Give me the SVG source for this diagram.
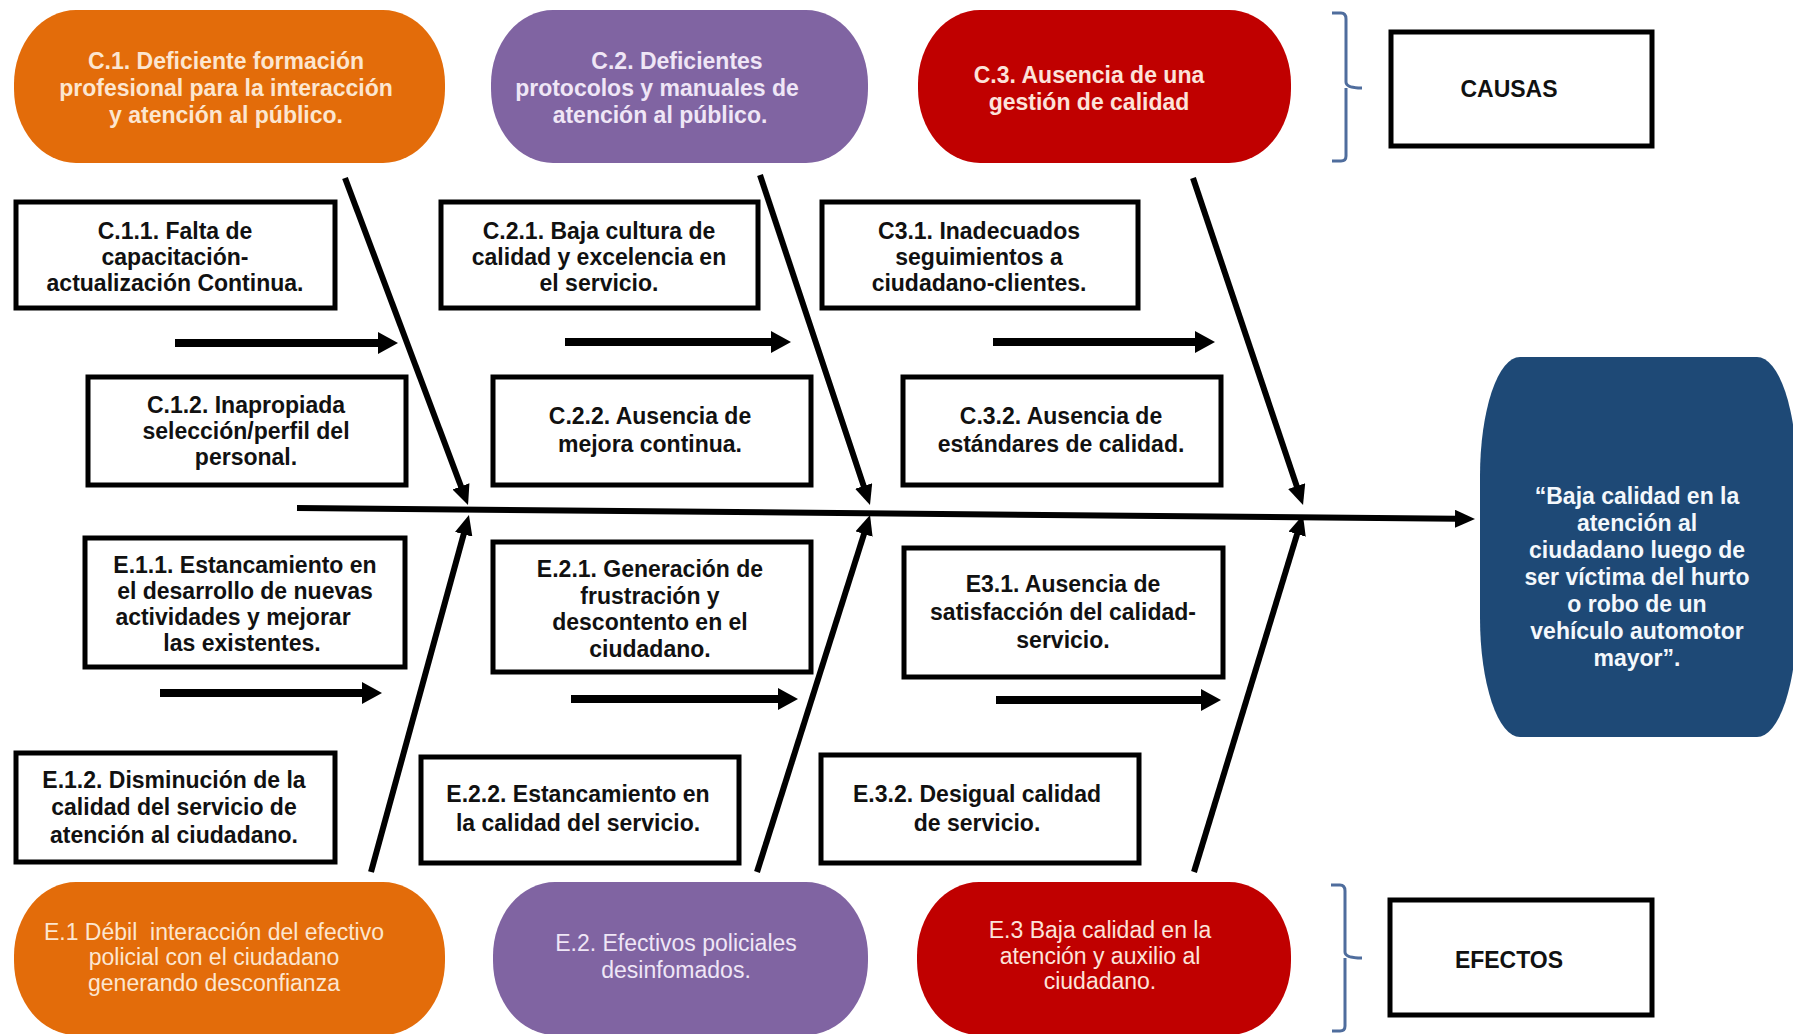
<svg xmlns="http://www.w3.org/2000/svg" width="1793" height="1034" viewBox="0 0 1793 1034">
<style>
  text { font-family: "Liberation Sans", Arial, sans-serif; font-size: 23px; text-anchor: middle; }
  .box { fill: #ffffff; stroke: #000000; stroke-width: 5; }
  .bt { font-weight: bold; fill: #111111; }
  .orange { fill: #E36C0A; }
  .purple { fill: #8064A2; }
  .red { fill: #C00000; }
  .navy { fill: #1E4976; }
  .ct { font-weight: bold; }
  .et { font-weight: normal; }
  .to { fill: #FCE6D0; }
  .tp { fill: #EFE6F6; }
  .tr { fill: #FCE3DA; }
  .tn { font-weight: bold; fill: #F4F8FC; }
  .lbl { font-weight: bold; fill: #111111; }
  .bone { stroke: #000000; stroke-width: 6; fill: none; marker-end: url(#headL); }
  .twig { stroke: #000000; stroke-width: 8; fill: none; marker-end: url(#headS); }
  .brace { stroke: #4F6D9D; stroke-width: 3; fill: none; }
</style>
<defs>
  <marker id="headL" markerUnits="userSpaceOnUse" markerWidth="20" markerHeight="18" refX="2" refY="9" orient="auto">
    <path d="M0,0 L20,9 L0,18 z" fill="#000000"/>
  </marker>
  <marker id="headS" markerUnits="userSpaceOnUse" markerWidth="20" markerHeight="22" refX="2" refY="11" orient="auto">
    <path d="M0,0 L20,11 L0,22 z" fill="#000000"/>
  </marker>
</defs>
<rect x="0" y="0" width="1793" height="1034" fill="#ffffff"/>

<g id="connectors">
  <line class="bone" x1="297" y1="508" x2="1457" y2="518.8"/>
  <line class="bone" x1="345" y1="178" x2="461.7" y2="488.2"/>
  <line class="bone" x1="760" y1="175" x2="864.3" y2="487.9"/>
  <line class="bone" x1="1193" y1="178" x2="1297.3" y2="487.9"/>
  <line class="bone" x1="371" y1="872" x2="464.2" y2="532.4"/>
  <line class="bone" x1="757" y1="872" x2="864.6" y2="532.2"/>
  <line class="bone" x1="1194" y1="872" x2="1297.7" y2="532.2"/>
  <line class="twig" x1="175" y1="343" x2="380" y2="343"/>
  <line class="twig" x1="565" y1="342" x2="773" y2="342"/>
  <line class="twig" x1="993" y1="342" x2="1197" y2="342"/>
  <line class="twig" x1="160" y1="693" x2="364" y2="693"/>
  <line class="twig" x1="571" y1="699" x2="780" y2="699"/>
  <line class="twig" x1="996" y1="700" x2="1203" y2="700"/>
</g>

<g id="braces">
  <path class="brace" d="M1332,13 L1341,13 Q1346,13 1346,19 L1346,82 Q1346,88 1362,88 M1346,88 Q1346,94 1346,100 L1346,156 Q1346,161 1341,161 L1332,161"/>
  <path class="brace" d="M1331,885 L1340,885 Q1345,885 1345,891 L1345,952 Q1345,958 1362,958 M1345,958 L1345,1026 Q1345,1031 1340,1031 L1332,1031"/>
</g>

<g id="C1">
  <rect class="orange" x="14" y="10" width="431" height="153" rx="62" ry="74"/>
  <text class="ct to"><tspan x="226" y="69">C.1. Deficiente formación</tspan><tspan x="226" y="96">profesional para la interacción</tspan><tspan x="226" y="123">y atención al público.</tspan></text>
</g>
<g id="C2">
  <rect class="purple" x="491" y="10" width="377" height="153" rx="62" ry="74"/>
  <text class="ct tp"><tspan x="677" y="69">C.2. Deficientes</tspan><tspan x="657" y="96">protocolos y manuales de</tspan><tspan x="660" y="123">atención al público.</tspan></text>
</g>
<g id="C3">
  <rect class="red" x="918" y="10" width="373" height="153" rx="62" ry="74"/>
  <text class="ct tr"><tspan x="1089" y="83">C.3. Ausencia de una</tspan><tspan x="1089" y="110">gestión de calidad</tspan></text>
</g>

<g id="CAUSAS">
  <rect class="box" x="1391" y="32" width="261" height="114"/>
  <text class="lbl" x="1509" y="97">CAUSAS</text>
</g>

<g id="C11">
  <rect class="box" x="16" y="202" width="319" height="106"/>
  <text class="bt"><tspan x="175" y="239">C.1.1. Falta de</tspan><tspan x="175" y="265">capacitación-</tspan><tspan x="175" y="291">actualización Continua.</tspan></text>
</g>
<g id="C12">
  <rect class="box" x="88" y="377" width="318" height="108"/>
  <text class="bt"><tspan x="246" y="413">C.1.2. Inapropiada</tspan><tspan x="246" y="439">selección/perfil del</tspan><tspan x="246" y="465">personal.</tspan></text>
</g>
<g id="C21">
  <rect class="box" x="441" y="202" width="317" height="106"/>
  <text class="bt"><tspan x="599" y="239">C.2.1. Baja cultura de</tspan><tspan x="599" y="265">calidad y excelencia en</tspan><tspan x="599" y="291">el servicio.</tspan></text>
</g>
<g id="C22">
  <rect class="box" x="493" y="377" width="318" height="108"/>
  <text class="bt"><tspan x="650" y="424">C.2.2. Ausencia de</tspan><tspan x="650" y="452">mejora continua.</tspan></text>
</g>
<g id="C31">
  <rect class="box" x="822" y="202" width="316" height="106"/>
  <text class="bt"><tspan x="979" y="239">C3.1. Inadecuados</tspan><tspan x="979" y="265">seguimientos a</tspan><tspan x="979" y="291">ciudadano-clientes.</tspan></text>
</g>
<g id="C32">
  <rect class="box" x="903" y="377" width="318" height="108"/>
  <text class="bt"><tspan x="1061" y="424">C.3.2. Ausencia de</tspan><tspan x="1061" y="452">estándares de calidad.</tspan></text>
</g>

<g id="E11">
  <rect class="box" x="85" y="538" width="320" height="129"/>
  <text class="bt"><tspan x="245" y="573">E.1.1. Estancamiento en</tspan><tspan x="245" y="599">el desarrollo de nuevas</tspan><tspan x="233" y="625">actividades y mejorar</tspan><tspan x="242" y="651">las existentes.</tspan></text>
</g>
<g id="E21">
  <rect class="box" x="493" y="542" width="318" height="130"/>
  <text class="bt"><tspan x="650" y="577">E.2.1. Generación de</tspan><tspan x="650" y="604">frustración y</tspan><tspan x="650" y="630">descontento en el</tspan><tspan x="650" y="657">ciudadano.</tspan></text>
</g>
<g id="E31">
  <rect class="box" x="904" y="548" width="319" height="129"/>
  <text class="bt"><tspan x="1063" y="592">E3.1. Ausencia de</tspan><tspan x="1063" y="620">satisfacción del calidad-</tspan><tspan x="1063" y="648">servicio.</tspan></text>
</g>
<g id="E12">
  <rect class="box" x="16" y="753" width="319" height="109"/>
  <text class="bt"><tspan x="174" y="788">E.1.2. Disminución de la</tspan><tspan x="174" y="815">calidad del servicio de</tspan><tspan x="174" y="843">atención al ciudadano.</tspan></text>
</g>
<g id="E22">
  <rect class="box" x="421" y="757" width="318" height="106"/>
  <text class="bt"><tspan x="578" y="802">E.2.2. Estancamiento en</tspan><tspan x="578" y="831">la calidad del servicio.</tspan></text>
</g>
<g id="E32">
  <rect class="box" x="821" y="755" width="318" height="108"/>
  <text class="bt"><tspan x="977" y="802">E.3.2. Desigual calidad</tspan><tspan x="977" y="831">de servicio.</tspan></text>
</g>

<g id="E1">
  <rect class="orange" x="14" y="882" width="431" height="153" rx="62" ry="74"/>
  <text class="et to"><tspan x="214" y="940">E.1 Débil&#160; interacción del efectivo</tspan><tspan x="214" y="965">policial con el ciudadano</tspan><tspan x="214" y="991">generando desconfianza</tspan></text>
</g>
<g id="E2">
  <rect class="purple" x="493" y="882" width="375" height="153" rx="62" ry="74"/>
  <text class="et tp"><tspan x="676" y="951">E.2. Efectivos policiales</tspan><tspan x="676" y="978">desinfomados.</tspan></text>
</g>
<g id="E3">
  <rect class="red" x="917" y="882" width="374" height="153" rx="62" ry="74"/>
  <text class="et tr"><tspan x="1100" y="938">E.3 Baja calidad en la</tspan><tspan x="1100" y="964">atención y auxilio al</tspan><tspan x="1100" y="989">ciudadano.</tspan></text>
</g>

<g id="EFECTOS">
  <rect class="box" x="1390" y="900" width="262" height="115"/>
  <text class="lbl" x="1509" y="968">EFECTOS</text>
</g>

<g id="problema">
  <rect class="navy" x="1480" y="357" width="317" height="380" rx="40" ry="119"/>
  <text class="tn"><tspan x="1637" y="504">“Baja calidad en la</tspan><tspan x="1637" y="531">atención al</tspan><tspan x="1637" y="558">ciudadano luego de</tspan><tspan x="1637" y="585">ser víctima del hurto</tspan><tspan x="1637" y="612">o robo de un</tspan><tspan x="1637" y="639">vehículo automotor</tspan><tspan x="1637" y="666">mayor”.</tspan></text>
</g>
</svg>
